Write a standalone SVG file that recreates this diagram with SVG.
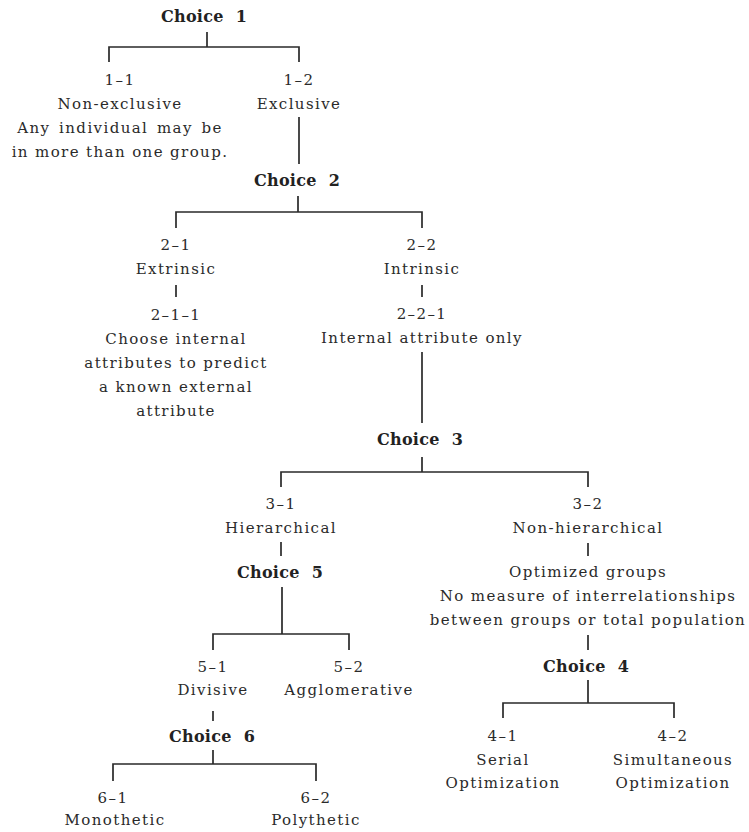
<svg xmlns="http://www.w3.org/2000/svg" width="749" height="832" viewBox="0 0 749 832">
<style>
text{font-family:"DejaVu Serif","Liberation Serif",serif;font-size:15px;fill:#2a2a2a;text-anchor:middle;letter-spacing:1.4px}
.c{font-weight:bold;font-size:16px;fill:#222;letter-spacing:0.3px;word-spacing:6px}
.w{word-spacing:2.5px}
.ln{stroke:#2a2a2a;stroke-width:1.7;fill:none}
</style>
<rect width="749" height="832" fill="#fff"/>
<g id="connectors" class="ln">
<path d="M207 32V47M109 62V47H299V62"/>
<path d="M299 117V164"/>
<path d="M298 196V212M176 228V212H422V228"/>
<path d="M176 285V297M422 285V297"/>
<path d="M422 352V423"/>
<path d="M422 457V472M281 487V472H588V487"/>
<path d="M281 542V556"/>
<path d="M282 587V634M213 650V634H349V650"/>
<path d="M213 711V721"/>
<path d="M213 750V764M113 781V764H316V781"/>
<path d="M588 543V556"/>
<path d="M588 635V650"/>
<path d="M588 680V703M503 718V703H674V718"/>
</g>
<g id="choice1"><text class="c" x="204" y="22">Choice 1</text></g>
<g id="n1-1"><text x="120" y="85">1–1</text><text x="120" y="109">Non-exclusive</text><text class="w" x="120" y="133">Any individual may be</text><text x="120" y="157">in more than one group.</text></g>
<g id="n1-2"><text x="299" y="85">1–2</text><text x="299" y="109">Exclusive</text></g>
<g id="choice2"><text class="c" x="297" y="186">Choice 2</text></g>
<g id="n2-1"><text x="176" y="250">2–1</text><text x="176" y="274">Extrinsic</text></g>
<g id="n2-1-1"><text x="176" y="320">2–1–1</text><text x="176" y="344">Choose internal</text><text x="176" y="368">attributes to predict</text><text x="176" y="392">a known external</text><text x="176" y="416">attribute</text></g>
<g id="n2-2"><text x="422" y="250">2–2</text><text x="422" y="274">Intrinsic</text></g>
<g id="n2-2-1"><text x="422" y="319">2–2–1</text><text x="422" y="343">Internal attribute only</text></g>
<g id="choice3"><text class="c" x="420" y="445">Choice 3</text></g>
<g id="n3-1"><text x="281" y="509">3–1</text><text x="281" y="533">Hierarchical</text></g>
<g id="choice5"><text class="c" x="280" y="578">Choice 5</text></g>
<g id="n5-1"><text x="213" y="672">5–1</text><text x="213" y="695">Divisive</text></g>
<g id="n5-2"><text x="349" y="672">5–2</text><text x="349" y="695">Agglomerative</text></g>
<g id="choice6"><text class="c" x="212" y="742">Choice 6</text></g>
<g id="n6-1"><text x="113" y="803">6–1</text><text x="115" y="825">Monothetic</text></g>
<g id="n6-2"><text x="316" y="803">6–2</text><text x="316" y="825">Polythetic</text></g>
<g id="n3-2"><text x="588" y="509">3–2</text><text x="588" y="533">Non-hierarchical</text></g>
<g id="optimized"><text x="588" y="577">Optimized groups</text><text x="588" y="601">No measure of interrelationships</text><text x="588" y="625">between groups or total population</text></g>
<g id="choice4"><text class="c" x="586" y="672">Choice 4</text></g>
<g id="n4-1"><text x="503" y="741">4–1</text><text x="503" y="765">Serial</text><text x="503" y="788">Optimization</text></g>
<g id="n4-2"><text x="673" y="741">4–2</text><text x="673" y="765">Simultaneous</text><text x="673" y="788">Optimization</text></g>
</svg>
